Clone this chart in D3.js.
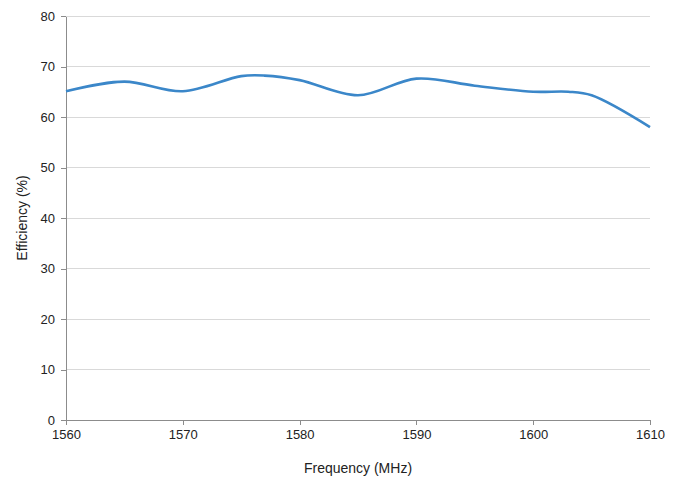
<!DOCTYPE html>
<html><head><meta charset="utf-8">
<script src="https://cdn.jsdelivr.net/npm/d3@7"></script>
<style>body{margin:0;background:#fff;} text{font-family:"Liberation Sans",Arial,sans-serif;}</style>
</head><body><svg id="c" width="685" height="480"></svg>
<script>
const freq = [1560, 1565, 1570, 1575, 1577, 1580, 1585, 1590, 1595, 1600, 1603, 1605, 1610];
const efficiency = [65.1, 67.0, 65.1, 68.1, 68.2, 67.3, 64.3, 67.6, 66.2, 65.0, 65.0, 64.3, 58.0];
const xTicks = [1560, 1570, 1580, 1590, 1600, 1610];
const yTicks = [0, 10, 20, 30, 40, 50, 60, 70, 80];

const svg = d3.select("#c");
const m = {l: 66, r: 650, t: 16, b: 420};
const x = d3.scaleLinear().domain([1560, 1610]).range([m.l, m.r]);
const y = d3.scaleLinear().domain([0, 80]).range([m.b, m.t]);

// gridlines
svg.append("g").selectAll("line").data(yTicks.filter(d => d > 0)).join("line")
  .attr("x1", m.l).attr("x2", m.r).attr("y1", d => y(d)).attr("y2", d => y(d))
  .attr("stroke", "#d9d9d9").attr("stroke-width", 1).attr("shape-rendering", "crispEdges");

// y axis
const ya = svg.append("g").attr("transform", `translate(${m.l},0)`)
  .call(d3.axisLeft(y).tickValues(yTicks).tickSize(5).tickPadding(6).tickSizeOuter(0));
// x axis
const xa = svg.append("g").attr("transform", `translate(0,${m.b})`)
  .call(d3.axisBottom(x).tickValues(xTicks).tickFormat(d3.format("d")).tickSize(5).tickPadding(5).tickSizeOuter(0));
[ya, xa].forEach(a => {
  a.selectAll("path,line").attr("stroke", "#8c8c8c").attr("shape-rendering", "crispEdges");
  a.selectAll("text").attr("font-size", 13).attr("fill", "#222")
    .attr("font-family", '"Liberation Sans",Arial,sans-serif');
});

// line
const line = d3.line().x((d, i) => x(freq[i])).y(d => y(d)).curve(d3.curveCatmullRom.alpha(0.5));
svg.append("path").datum(efficiency).attr("d", line)
  .attr("fill", "none").attr("stroke", "#3b87c9").attr("stroke-width", 2.6);

// titles
svg.append("text").attr("x", (m.l + m.r) / 2).attr("y", 473).attr("text-anchor", "middle")
  .attr("font-size", 14).attr("fill", "#222").text("Frequency (MHz)");
svg.append("text").attr("transform", `translate(27,${(m.t + m.b) / 2}) rotate(-90)`)
  .attr("text-anchor", "middle").attr("font-size", 14).attr("fill", "#222").text("Efficiency (%)");
</script></body></html>
